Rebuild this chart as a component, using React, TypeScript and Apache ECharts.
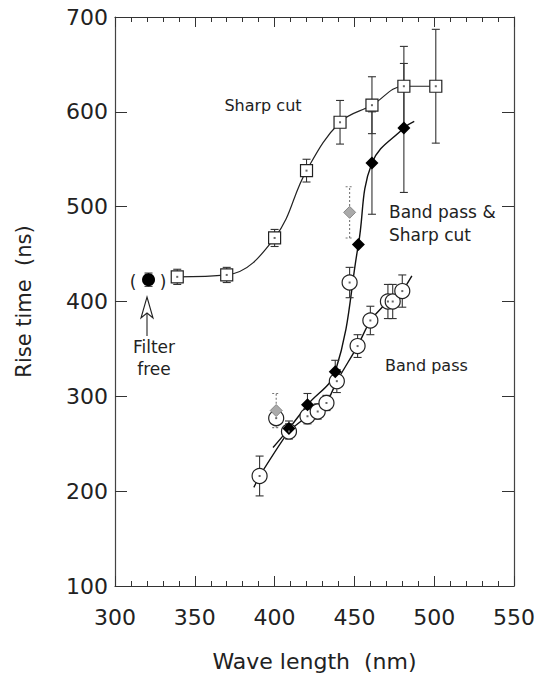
import React, { useEffect, useRef } from "react";
import * as echarts from "echarts";

// Sharp cut (open squares)
const sharpX = [339, 370, 400, 420, 441, 461, 481, 501];
const sharpY = [426, 428, 467, 538, 589, 607, 627, 627];
const sharpErr = [8, 8, 9, 12, 23, 30, 42, 60];

// Band pass & Sharp cut (filled diamonds)
const bothX = [409, 420.6, 438, 452.5, 461, 481];
const bothY = [266, 291, 326, 460, 546, 583];
const bothErr = [8, 12, 12, 0, 54, 68];
// fitted curve through diamonds
const bothFitX = [399, 409, 420.6, 438, 452.5, 461, 481, 487.5];
const bothFitY = [246, 266, 291, 326, 460, 546, 583, 590];

// Band pass (open circles)
const bandX = [390.6, 401, 409, 420.6, 427, 432.5, 439, 447, 452, 460, 471, 474, 480];
const bandY = [216, 277, 263, 279, 284, 293, 316, 420, 353, 380, 400, 400, 411];
const bandErr = [21, 0, 8, 8, 8, 8, 12, 16, 12, 15, 18, 18, 17];
// fitted line through circles
const bandFitX = [387, 390.6, 409, 420.6, 432.5, 439, 452, 460, 471, 480, 486];
const bandFitY = [204, 216, 263, 279, 293, 316, 353, 380, 400, 411, 427];

// Grey diamonds with dotted error bars
const greyX = [401, 447];
const greyY = [285, 494];
const greyErr = [18, 27];

// Filter free (filled circle)
const freeX = [321];
const freeY = [423];
const freeErr = [7];

const xTicks = [300, 350, 400, 450, 500, 550];
const yTicks = [100, 200, 300, 400, 500, 600, 700];

const FONT = "DejaVu Sans";
const INK = "#222";

function pairs(xs: number[], ys: number[]) {
  return xs.map((x, i) => [x, ys[i]]);
}
function errData(xs: number[], ys: number[], es: number[]) {
  return xs
    .map((x, i) => [x, ys[i] - es[i], ys[i] + es[i]])
    .filter((d) => d[2] - d[1] > 0);
}

function errSeries(data: number[][], color: string, dashed: boolean) {
  return {
    type: "custom",
    z: 2,
    silent: true,
    encode: { x: 0, y: [1, 2] },
    data,
    renderItem: (params: any, api: any) => {
      const x = api.value(0);
      const p1 = api.coord([x, api.value(1)]);
      const p2 = api.coord([x, api.value(2)]);
      const st = {
        stroke: color,
        lineWidth: 1.1,
        lineDash: dashed ? [2, 2] : null,
      };
      const cw = 4;
      return {
        type: "group",
        children: [
          { type: "line", shape: { x1: p1[0], y1: p1[1], x2: p2[0], y2: p2[1] }, style: st },
          { type: "line", shape: { x1: p1[0] - cw, y1: p1[1], x2: p1[0] + cw, y2: p1[1] }, style: st },
          { type: "line", shape: { x1: p2[0] - cw, y1: p2[1], x2: p2[0] + cw, y2: p2[1] }, style: st },
        ],
      };
    },
  };
}

function xAxisCfg(top: boolean) {
  return {
    type: "value",
    position: top ? "top" : "bottom",
    min: 300,
    max: 550,
    interval: 50,
    name: top ? "" : "Wave length  (nm)",
    nameLocation: "middle",
    nameGap: 64,
    nameTextStyle: { fontFamily: FONT, fontSize: 22, color: INK },
    axisLine: { show: true, onZero: false, lineStyle: { color: "#333", width: 1.2 } },
    axisTick: { show: true, inside: true, length: 10, lineStyle: { color: "#333" } },
    minorTick: { show: true, splitNumber: 5, length: 5, lineStyle: { color: "#333" } },
    splitLine: { show: false },
    axisLabel: {
      show: !top,
      margin: 20,
      fontFamily: FONT,
      fontSize: 22,
      color: INK,
      formatter: (v: number) => (xTicks.includes(v) ? String(v) : ""),
    },
  };
}

function yAxisCfg(right: boolean) {
  return {
    type: "value",
    position: right ? "right" : "left",
    min: 100,
    max: 700,
    interval: 100,
    name: right ? "" : "Rise time  (ns)",
    nameLocation: "middle",
    nameGap: 81,
    nameTextStyle: { fontFamily: FONT, fontSize: 21, color: INK },
    axisLine: { show: true, onZero: false, lineStyle: { color: "#444", width: 1.2 } },
    axisTick: { show: true, inside: true, length: 12, lineStyle: { color: "#333" } },
    splitLine: { show: false },
    axisLabel: {
      show: !right,
      margin: 7,
      fontFamily: FONT,
      fontSize: 22,
      color: INK,
      formatter: (v: number) => (yTicks.includes(v) ? String(v) : ""),
    },
  };
}

export default function App() {
  const ref = useRef<HTMLDivElement>(null);
  useEffect(() => {
    if (!ref.current) return;
    const chart = echarts.init(ref.current, null, { renderer: "svg" });
    const txt = (text: string, x: number, y: number, size: number, align = "left") => ({
      type: "text",
      x,
      y,
      style: {
        text,
        fontFamily: FONT,
        fontSize: size,
        fill: INK,
        align,
        verticalAlign: "middle",
      },
      z: 10,
    });
    chart.setOption({
      animation: false,
      backgroundColor: "#fff",
      grid: { left: 115, right: 33, top: 17, bottom: 88, containLabel: false },
      xAxis: [xAxisCfg(false), xAxisCfg(true)],
      yAxis: [yAxisCfg(false), yAxisCfg(true)],
      graphic: [
        txt("Sharp cut", 263, 105, 16, "center"),
        txt("Band pass &", 389, 212, 17),
        txt("Sharp cut", 389, 235, 17),
        txt("Band pass", 385, 365, 16),
        txt("Filter", 154, 347, 17, "center"),
        txt("free", 154, 369, 17, "center"),
        txt("(", 133, 282, 17, "center"),
        txt(")", 163, 282, 17, "center"),
        {
          type: "polygon",
          shape: { points: [[147, 297], [153, 318], [147, 313], [141, 318]] },
          style: { fill: "#fff", stroke: INK, lineWidth: 1.1 },
          z: 10,
        },
        {
          type: "line",
          shape: { x1: 147, y1: 314, x2: 147, y2: 336 },
          style: { stroke: INK, lineWidth: 1.1 },
          z: 10,
        },
      ],
      series: [
        {
          name: "Sharp cut fit",
          type: "line",
          z: 1,
          smooth: 0.4,
          symbol: "none",
          lineStyle: { color: INK, width: 1.2 },
          data: pairs(sharpX, sharpY),
        },
        {
          name: "Band pass & Sharp cut fit",
          type: "line",
          z: 1,
          smooth: 0.4,
          symbol: "none",
          lineStyle: { color: "#111", width: 1.4 },
          data: pairs(bothFitX, bothFitY),
        },
        {
          name: "Band pass fit",
          type: "line",
          z: 1,
          smooth: 0.15,
          symbol: "none",
          lineStyle: { color: "#111", width: 1.4 },
          data: pairs(bandFitX, bandFitY),
        },
        errSeries(errData(sharpX, sharpY, sharpErr), "#333", false),
        errSeries(errData(bothX, bothY, bothErr), "#333", false),
        errSeries(errData(bandX, bandY, bandErr), "#333", false),
        errSeries(errData(freeX, freeY, freeErr), "#333", false),
        errSeries(errData(greyX, greyY, greyErr), "#777", true),
        {
          name: "Band pass",
          type: "scatter",
          z: 5,
          symbol: "circle",
          symbolSize: 15,
          itemStyle: { color: "#fff", borderColor: INK, borderWidth: 1.2, opacity: 1 },
          data: pairs(bandX, bandY),
        },
        {
          name: "Grey",
          type: "scatter",
          z: 6,
          symbol: "diamond",
          symbolSize: 12,
          itemStyle: { color: "#aaa", borderColor: "#888", borderWidth: 1, opacity: 1 },
          data: pairs(greyX, greyY),
        },
        {
          name: "Sharp cut",
          type: "scatter",
          z: 5,
          symbol: "rect",
          symbolSize: 12,
          itemStyle: { color: "#fff", borderColor: INK, borderWidth: 1.2, opacity: 1 },
          data: pairs(sharpX, sharpY),
        },
        {
          name: "Band pass & Sharp cut",
          type: "scatter",
          z: 6,
          symbol: "diamond",
          symbolSize: 13,
          itemStyle: { color: "#000", opacity: 1 },
          data: pairs(bothX, bothY),
        },
        {
          name: "Filter free",
          type: "scatter",
          z: 6,
          symbol: "circle",
          symbolSize: 13,
          itemStyle: { color: "#000", opacity: 1 },
          data: pairs(freeX, freeY),
        },
        {
          name: "centres",
          type: "scatter",
          z: 7,
          symbol: "rect",
          symbolSize: 2,
          itemStyle: { color: "#666", opacity: 1 },
          data: pairs(sharpX, sharpY).concat(pairs(bandX, bandY)),
        },
      ],
    });
    return () => chart.dispose();
  }, []);
  return (
    <div
      ref={ref}
      style={{ position: "fixed", left: 0, top: 0, width: 547, height: 677, background: "#fff" }}
    />
  );
}
